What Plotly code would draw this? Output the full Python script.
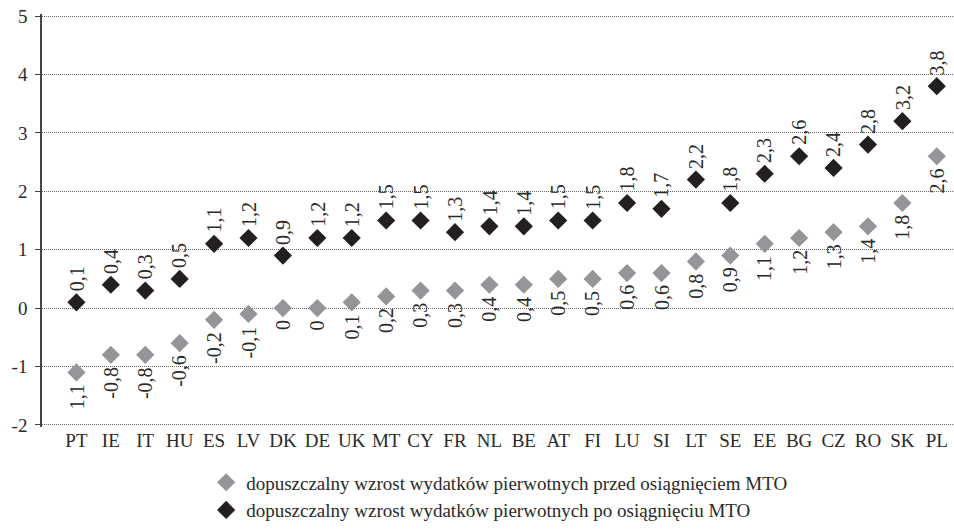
import plotly.graph_objects as go

countries = ['PT', 'IE', 'IT', 'HU', 'ES', 'LV', 'DK', 'DE', 'UK', 'MT', 'CY', 'FR', 'NL',
             'BE', 'AT', 'FI', 'LU', 'SI', 'LT', 'SE', 'EE', 'BG', 'CZ', 'RO', 'SK', 'PL']
before_mto = [-1.1, -0.8, -0.8, -0.6, -0.2, -0.1, 0, 0, 0.1, 0.2, 0.3, 0.3, 0.4,
              0.4, 0.5, 0.5, 0.6, 0.6, 0.8, 0.9, 1.1, 1.2, 1.3, 1.4, 1.8, 2.6]
after_mto = [0.1, 0.4, 0.3, 0.5, 1.1, 1.2, 0.9, 1.2, 1.2, 1.5, 1.5, 1.3, 1.4,
             1.4, 1.5, 1.5, 1.8, 1.7, 2.2, 1.8, 2.3, 2.6, 2.4, 2.8, 3.2, 3.8]
# labels as printed in the source (PT grey label has no minus sign)
before_labels = ['1,1', '-0,8', '-0,8', '-0,6', '-0,2', '-0,1', '0', '0', '0,1', '0,2', '0,3', '0,3', '0,4',
                 '0,4', '0,5', '0,5', '0,6', '0,6', '0,8', '0,9', '1,1', '1,2', '1,3', '1,4', '1,8', '2,6']
after_labels = [str(v).replace('.', ',') for v in after_mto]
y_ticks = [-2, -1, 0, 1, 2, 3, 4, 5]

grey = '#939598'
black = '#231f20'
txt = '#2a2a2a'
font = 'Liberation Serif, Times New Roman, serif'

fig = go.Figure()
fig.add_trace(go.Scatter(x=countries, y=before_mto, mode='markers',
                         name='dopuszczalny wzrost wydatków pierwotnych przed osiągnięciem MTO',
                         marker=dict(symbol='diamond', size=14, color=grey)))
fig.add_trace(go.Scatter(x=countries, y=after_mto, mode='markers',
                         name='dopuszczalny wzrost wydatków pierwotnych po osiągnięciu MTO',
                         marker=dict(symbol='diamond', size=14, color=black)))

# rotated value labels
for c, v, t in zip(countries, before_mto, before_labels):
    fig.add_annotation(x=c, y=v, text=t, textangle=-90, showarrow=False,
                       yanchor='top', yshift=-10, font=dict(size=20, color=txt))
for c, v, t in zip(countries, after_mto, after_labels):
    fig.add_annotation(x=c, y=v, text=t, textangle=-90, showarrow=False,
                       yanchor='bottom', yshift=9, font=dict(size=20, color=txt))

fig.update_layout(
    width=954,
    height=530,
    autosize=False,
    margin=dict(t=14, b=100, l=42, r=0),
    plot_bgcolor='white',
    paper_bgcolor='white',
    font=dict(family=font, size=19, color=txt),
    showlegend=True,
    legend=dict(orientation='v', x=0.18, xanchor='left', y=-0.248, yanchor='bottom',
                font=dict(size=19), itemwidth=30, tracegroupgap=0,
                bgcolor='rgba(0,0,0,0)'),
)
fig.update_xaxes(type='category', range=[-1, 25.5], showgrid=False, showline=False,
                 ticks='', tickfont=dict(size=19))
# small padding so the grid lines at 5 and -2 are not clipped at the plot edge
fig.update_yaxes(range=[-2.035, 5.035], tickvals=y_ticks, ticktext=[str(v) for v in y_ticks],
                 showgrid=True, gridcolor='#666', griddash='1px,1px', automargin=False,
                 gridwidth=1, zeroline=False, showline=True, linecolor='#444', linewidth=1.5,
                 ticks='outside', ticklen=5, tickcolor='#444', tickfont=dict(size=19),
                 ticklabelstandoff=4)

# drop the default body margin so the figure fills the window exactly
fig.write_html('out.html', config={'displayModeBar': False},
               post_script="document.body.style.margin='0';")
